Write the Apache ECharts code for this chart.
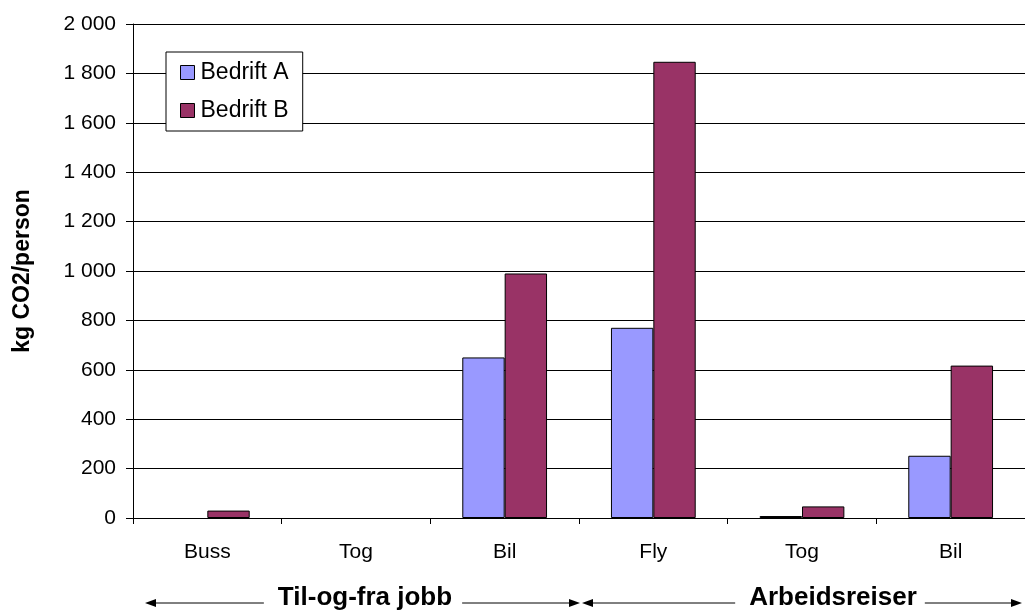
<!DOCTYPE html>
<html>
<head>
<meta charset="utf-8">
<title>kg CO2/person</title>
<script src="https://cdn.jsdelivr.net/npm/echarts@6/dist/echarts.min.js"></script>
<style>
  html, body { margin: 0; padding: 0; background: #fff; }
  #chart { width: 1025px; height: 612px; }
</style>
</head>
<body>
<div id="chart"></div>
<script>
// Transport categories: commuting (Buss, Tog, Bil) and business travel (Fly, Tog, Bil)
const categories = ['Buss', 'Tog', 'Bil', 'Fly', 'Tog', 'Bil'];
const groupLabels = ['Til-og-fra jobb', 'Arbeidsreiser'];
const seriesNames = ['Bedrift A', 'Bedrift B'];
const bedriftA = [0, 0, 650, 770, 8, 252];
const bedriftB = [30, 0, 990, 1847, 47, 617];
const yTicks = { min: 0, max: 2000, interval: 200 };

const FONT = 'Arial, "Liberation Sans", Helvetica, sans-serif';

const chart = echarts.init(document.getElementById('chart'), null, { renderer: 'canvas' });

function spaced(v) {
  return String(v).replace(/\B(?=(\d{3})+(?!\d))/g, ' ');
}

// zero-height bars get no outline so they don't leave a stroke on the axis
function barData(values) {
  return values.map(v => v === 0 ? { value: v, itemStyle: { borderWidth: 0 } } : v);
}

const option = {
  animation: false,
  backgroundColor: '#fff',
  textStyle: { fontFamily: FONT, color: '#000' },
  grid: { left: 133, top: 24, width: 895, height: 494, containLabel: false },
  legend: {
    orient: 'vertical',
    left: 166,
    top: 52,
    data: seriesNames,
    icon: 'rect',
    itemWidth: 14,
    itemHeight: 14,
    itemGap: 15,
    padding: [9, 14, 9, 14],
    borderColor: '#000',
    borderWidth: 1,
    backgroundColor: '#fff',
    textStyle: { fontFamily: FONT, fontSize: 23, color: '#000', padding: [0, 0, 0, 1] },
    itemStyle: { borderColor: '#000', borderWidth: 1 }
  },
  xAxis: {
    type: 'category',
    data: categories,
    boundaryGap: true,
    axisLine: { show: true, lineStyle: { color: '#000', width: 1 } },
    axisTick: { show: true, alignWithLabel: false, length: 6, lineStyle: { color: '#000' } },
    axisLabel: { fontFamily: FONT, fontSize: 21, color: '#000', margin: 24 },
    splitLine: { show: false }
  },
  yAxis: {
    type: 'value',
    min: yTicks.min,
    max: yTicks.max,
    interval: yTicks.interval,
    name: 'kg CO2/person',
    nameLocation: 'middle',
    nameGap: 99,
    nameRotate: 90,
    nameTextStyle: { fontFamily: FONT, fontSize: 23, fontWeight: 'bold', color: '#000' },
    axisLine: { show: true, lineStyle: { color: '#000', width: 1 } },
    axisTick: { show: true, length: 7, lineStyle: { color: '#000' } },
    axisLabel: { fontFamily: FONT, fontSize: 21, color: '#000', margin: 17, formatter: spaced },
    splitLine: { show: true, lineStyle: { color: '#000', width: 1 } }
  },
  series: [
    {
      name: seriesNames[0],
      type: 'bar',
      data: barData(bedriftA),
      barWidth: '28.5%',
      barGap: '0%',
      itemStyle: { color: '#9999FF', borderColor: '#000', borderWidth: 1 }
    },
    {
      name: seriesNames[1],
      type: 'bar',
      data: barData(bedriftB),
      barWidth: '28.5%',
      barGap: '0%',
      itemStyle: { color: '#993366', borderColor: '#000', borderWidth: 1 }
    }
  ]
};

chart.setOption(option);

// Group brackets under the category axis: arrow — label — arrow
const BRACKET_FONT = 'bold 26px ' + FONT;
function bracket(x0, x1, textX, label, gapL, gapR) {
  const y = 603;
  const head = 11, half = 4;
  const els = [];
  const tmp = new echarts.graphic.Text({ style: { text: label, font: BRACKET_FONT } });
  const w = tmp.getBoundingRect().width;
  const tl = textX - w / 2, tr = textX + w / 2;
  els.push({ type: 'line', shape: { x1: x0 + head, y1: y, x2: tl - gapL, y2: y }, style: { stroke: '#000', lineWidth: 1 } });
  els.push({ type: 'line', shape: { x1: tr + gapR, y1: y, x2: x1 - head, y2: y }, style: { stroke: '#000', lineWidth: 1 } });
  els.push({ type: 'polygon', shape: { points: [[x0, y], [x0 + head, y - half], [x0 + head, y + half]] }, style: { fill: '#000' } });
  els.push({ type: 'polygon', shape: { points: [[x1, y], [x1 - head, y - half], [x1 - head, y + half]] }, style: { fill: '#000' } });
  els.push({
    type: 'text', x: textX, y: y - 5,
    style: { text: label, font: BRACKET_FONT, fill: '#000', align: 'center', verticalAlign: 'middle' }
  });
  return els;
}

const c0 = chart.convertToPixel({ xAxisIndex: 0 }, 0);
const c1 = chart.convertToPixel({ xAxisIndex: 0 }, 1);
const step = c1 - c0;
const b0 = c0 - step / 2;          // left edge of first group
const b1 = b0 + 3 * step;          // boundary between the two groups
const b2 = b0 + 6 * step;          // right edge of second group

chart.setOption({
  graphic: [
    ...bracket(b0 + 12, b1 + 1, 365, groupLabels[0], 14, 10),
    ...bracket(b1 + 3, Math.min(b2 - 3, 1024), 833, groupLabels[1], 14, 8)
  ]
});
</script>
</body>
</html>
